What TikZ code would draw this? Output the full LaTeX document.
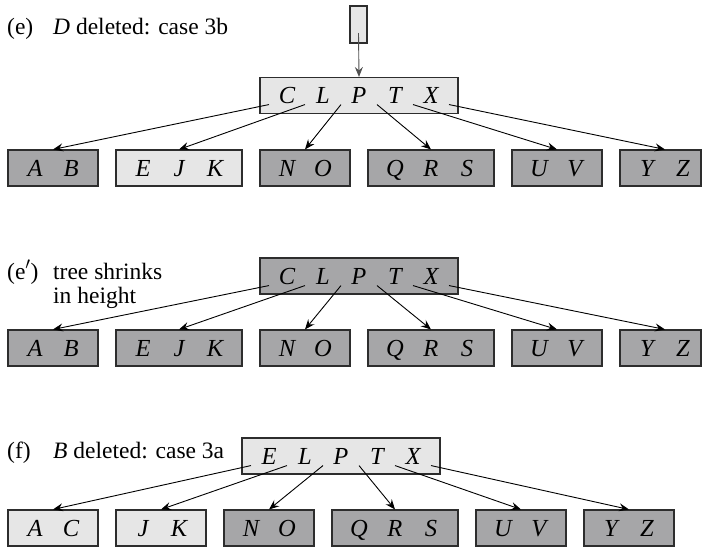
\documentclass[tikz,border=0pt]{standalone}
\usepackage{fontspec}
\setmainfont{Liberation Serif}
\usetikzlibrary{arrows.meta}
\definecolor{lightfill}{RGB}{230,230,230}
\definecolor{darkfill}{RGB}{166,166,168}
\definecolor{edgecol}{RGB}{45,45,45}
\definecolor{rootarrow}{RGB}{80,80,80}
\newcommand{\kk}[1]{\makebox[36pt]{\itshape #1}}
\begin{document}
\begin{tikzpicture}[x=1pt,y=1pt,
  font=\fontsize{23.5}{27}\selectfont,
  box/.style={draw=edgecol, line width=1.1pt, inner sep=0pt, minimum height=36pt,
              text height=16pt, text depth=0pt, font=\fontsize{24.5}{28}\selectfont},
  lightbox/.style={box, fill=lightfill},
  darkbox/.style={box, fill=darkfill},
  w2/.style={minimum width=90pt},
  w3/.style={minimum width=126pt},
  w5/.style={minimum width=198pt},
  arr/.style={-{Stealth[length=10pt,width=8pt,inset=3.5pt]}, line width=0.9pt, black},
  lbl/.style={anchor=base west, inner sep=0pt}]
\useasboundingbox (0,0) rectangle (702,-547);

% ---------- (e) ----------
\node[lbl] (ela) at (7,-34) {(e)};
\node[lbl] (elb) at (53,-34) {\textit{D} deleted: case 3b};
\node[lightbox, minimum width=17pt, minimum height=37pt] (eroot) at (358.5,-24.5) {};
\node[lightbox,w5] (ep) at (359,-95.5) {\kk{C}\kk{L}\kk{P}\kk{T}\kk{X}};
\node[darkbox,w2]  (e1) at (53,-168)  {\kk{A}\kk{B}};
\node[lightbox,w3] (e2) at (179,-168) {\kk{E}\kk{J}\kk{K}};
\node[darkbox,w2]  (e3) at (305,-168) {\kk{N}\kk{O}};
\node[darkbox,w3]  (e4) at (431,-168) {\kk{Q}\kk{R}\kk{S}};
\node[darkbox,w2]  (e5) at (557,-168) {\kk{U}\kk{V}};
\node[darkbox, minimum width=81pt] (e6) at (660.5,-168) {\hspace{9pt}\kk{Y}\kk{Z}};
\draw[arr, draw=rootarrow] ([yshift=-8.5pt]eroot.center) -- (ep.north);
\draw[arr] ([xshift=-90pt,yshift=9.5pt]ep.south) -- (e1.north);
\draw[arr] ([xshift=-54pt,yshift=9.5pt]ep.south) -- (e2.north);
\draw[arr] ([xshift=-18pt,yshift=9.5pt]ep.south) -- (e3.north);
\draw[arr] ([xshift=18pt,yshift=9.5pt]ep.south) -- (e4.north);
\draw[arr] ([xshift=54pt,yshift=9.5pt]ep.south) -- (e5.north);
\draw[arr] ([xshift=90pt,yshift=9.5pt]ep.south) -- ([xshift=4.5pt]e6.north);

% ---------- (e') ----------
\node[lbl] (gla) at (7,-279) {(e$'$)};
\node[lbl] (glb) at (53,-279) {tree shrinks};
\node[lbl] (glc) at (53,-303) {in height};
\node[darkbox,w5] (gp) at (359,-276) {\kk{C}\kk{L}\kk{P}\kk{T}\kk{X}};
\node[darkbox,w2] (g1) at (53,-348)  {\kk{A}\kk{B}};
\node[darkbox,w3] (g2) at (179,-348) {\kk{E}\kk{J}\kk{K}};
\node[darkbox,w2] (g3) at (305,-348) {\kk{N}\kk{O}};
\node[darkbox,w3] (g4) at (431,-348) {\kk{Q}\kk{R}\kk{S}};
\node[darkbox,w2] (g5) at (557,-348) {\kk{U}\kk{V}};
\node[darkbox, minimum width=81pt] (g6) at (660.5,-348) {\hspace{9pt}\kk{Y}\kk{Z}};
\draw[arr] ([xshift=-90pt,yshift=9pt]gp.south) -- (g1.north);
\draw[arr] ([xshift=-54pt,yshift=9pt]gp.south) -- (g2.north);
\draw[arr] ([xshift=-18pt,yshift=9pt]gp.south) -- (g3.north);
\draw[arr] ([xshift=18pt,yshift=9pt]gp.south) -- (g4.north);
\draw[arr] ([xshift=54pt,yshift=9pt]gp.south) -- (g5.north);
\draw[arr] ([xshift=90pt,yshift=9pt]gp.south) -- ([xshift=4.5pt]g6.north);

% ---------- (f) ----------
\node[lbl] (fla) at (7,-458) {(f)};
\node[lbl] (flb) at (53,-458) {\textit{B} deleted: case 3a};
\node[lightbox,w5] (fp) at (341,-456) {\kk{E}\kk{L}\kk{P}\kk{T}\kk{X}};
\node[lightbox,w2] (f1) at (53,-528)  {\kk{A}\kk{C}};
\node[lightbox,w2] (f2) at (161,-528) {\kk{J}\kk{K}};
\node[darkbox,w2]  (f3) at (269,-528) {\kk{N}\kk{O}};
\node[darkbox,w3]  (f4) at (395,-528) {\kk{Q}\kk{R}\kk{S}};
\node[darkbox,w2]  (f5) at (521,-528) {\kk{U}\kk{V}};
\node[darkbox,w2]  (f6) at (629,-528) {\kk{Y}\kk{Z}};
\draw[arr] ([xshift=-90pt,yshift=9pt]fp.south) -- (f1.north);
\draw[arr] ([xshift=-54pt,yshift=9pt]fp.south) -- (f2.north);
\draw[arr] ([xshift=-18pt,yshift=9pt]fp.south) -- (f3.north);
\draw[arr] ([xshift=18pt,yshift=9pt]fp.south) -- (f4.north);
\draw[arr] ([xshift=54pt,yshift=9pt]fp.south) -- (f5.north);
\draw[arr] ([xshift=90pt,yshift=9pt]fp.south) -- (f6.north);
\end{tikzpicture}
\end{document}
